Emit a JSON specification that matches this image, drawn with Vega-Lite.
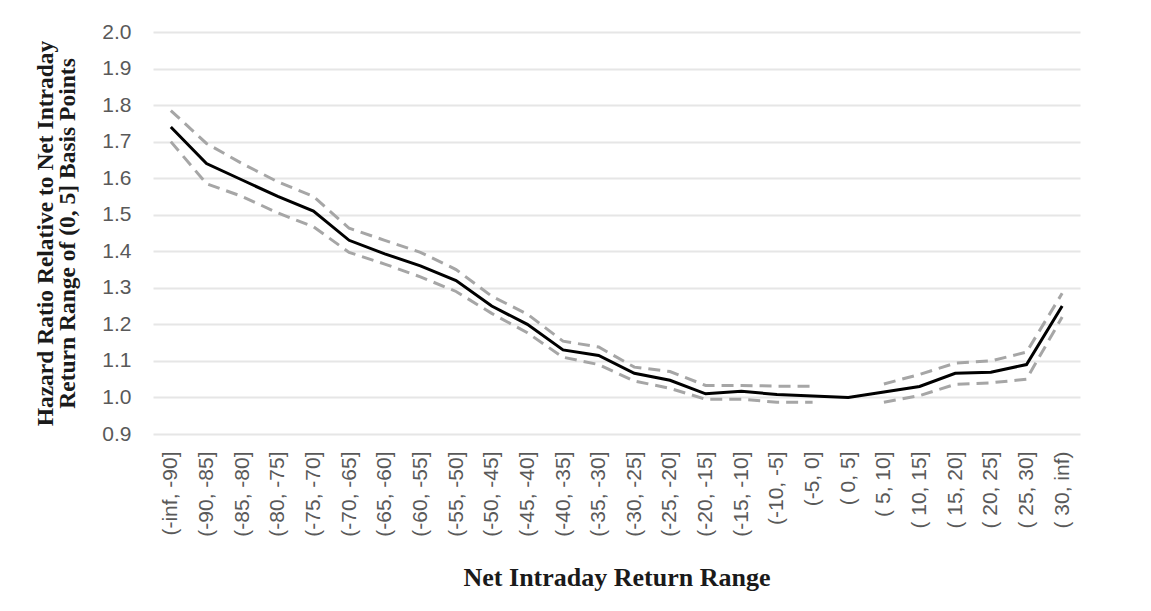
{
  "$schema": "https://vega.github.io/schema/vega-lite/v6.json",
  "autosize": {"type": "none"},
  "width": 927,
  "height": 402,
  "padding": {"left": 153, "top": 32, "right": 71, "bottom": 177},
  "background": "#ffffff",
  "config": {
    "view": {"stroke": null},
    "axis": {
      "labelFont": "Liberation Sans",
      "labelColor": "#595959",
      "labelFontSize": 21,
      "labelOverlap": false,
      "titleFont": "Liberation Serif",
      "titleFontWeight": "bold",
      "titleColor": "#1a1a1a",
      "domain": false,
      "ticks": false
    }
  },
  "data": {
    "values": [
      {"range": "(-inf, -90]", "hr": 1.74, "lower": 1.70, "upper": 1.785},
      {"range": "(-90, -85]", "hr": 1.64, "lower": 1.585, "upper": 1.695},
      {"range": "(-85, -80]", "hr": 1.595, "lower": 1.55, "upper": 1.64},
      {"range": "(-80, -75]", "hr": 1.55, "lower": 1.505, "upper": 1.59},
      {"range": "(-75, -70]", "hr": 1.51, "lower": 1.467, "upper": 1.55},
      {"range": "(-70, -65]", "hr": 1.43, "lower": 1.397, "upper": 1.463},
      {"range": "(-65, -60]", "hr": 1.393, "lower": 1.365, "upper": 1.43},
      {"range": "(-60, -55]", "hr": 1.36, "lower": 1.33, "upper": 1.397},
      {"range": "(-55, -50]", "hr": 1.32, "lower": 1.29, "upper": 1.35},
      {"range": "(-50, -45]", "hr": 1.25, "lower": 1.23, "upper": 1.277},
      {"range": "(-45, -40]", "hr": 1.20, "lower": 1.177, "upper": 1.228},
      {"range": "(-40, -35]", "hr": 1.13, "lower": 1.11, "upper": 1.154},
      {"range": "(-35, -30]", "hr": 1.115, "lower": 1.09, "upper": 1.138},
      {"range": "(-30, -25]", "hr": 1.066, "lower": 1.045, "upper": 1.083},
      {"range": "(-25, -20]", "hr": 1.047, "lower": 1.025, "upper": 1.071},
      {"range": "(-20, -15]", "hr": 1.01, "lower": 0.995, "upper": 1.033},
      {"range": "(-15, -10]", "hr": 1.017, "lower": 0.995, "upper": 1.033},
      {"range": "(-10, -5]", "hr": 1.008, "lower": 0.987, "upper": 1.031},
      {"range": "(-5, 0]", "hr": 1.004, "lower": 0.987, "upper": 1.031},
      {"range": "( 0, 5]", "hr": 1.0, "lower": null, "upper": null},
      {"range": "( 5, 10]", "hr": 1.015, "lower": 0.987, "upper": 1.037},
      {"range": "( 10, 15]", "hr": 1.03, "lower": 1.005, "upper": 1.063},
      {"range": "( 15, 20]", "hr": 1.066, "lower": 1.036, "upper": 1.094},
      {"range": "( 20, 25]", "hr": 1.069, "lower": 1.04, "upper": 1.10},
      {"range": "( 25, 30]", "hr": 1.09, "lower": 1.05, "upper": 1.124},
      {"range": "( 30, inf)", "hr": 1.25, "lower": 1.22, "upper": 1.285}
    ]
  },
  "transform": [{"fold": ["hr", "lower", "upper"], "as": ["series", "ratio"]}],
  "encoding": {
    "x": {
      "field": "range",
      "type": "nominal",
      "sort": null,
      "scale": {"type": "point", "padding": 0.5},
      "axis": {
        "title": "Net Intraday Return Range",
        "titleFontSize": 26,
        "titleBaseline": "middle",
        "titleY": 143,
        "labelAngle": 270,
        "labelAlign": "right",
        "labelBaseline": "middle",
        "labelPadding": 17,
        "grid": false
      }
    },
    "y": {
      "field": "ratio",
      "type": "quantitative",
      "scale": {"domain": [0.9, 2.0], "nice": false, "zero": false},
      "axis": {
        "title": ["Hazard Ratio Relative to Net Intraday", "Return Range of (0, 5] Basis Points"],
        "titleFontSize": 23.5,
        "titleLineHeight": 22,
        "titleAngle": 270,
        "titleAlign": "center",
        "titleBaseline": "middle",
        "titleX": -108,
        "titleY": 201,
        "values": [0.9, 1.0, 1.1, 1.2, 1.3, 1.4, 1.5, 1.6, 1.7, 1.8, 1.9, 2.0],
        "format": ".1f",
        "labelPadding": 22,
        "grid": true,
        "gridColor": "#e6e6e6",
        "gridWidth": 2
      }
    }
  },
  "layer": [
    {
      "transform": [{"filter": "datum.series !== 'hr'"}],
      "mark": {
        "type": "line",
        "color": "#a6a6a6",
        "strokeWidth": 3,
        "strokeDash": [12, 7],
        "invalid": "break-paths-filter-domains"
      },
      "encoding": {
        "detail": {"field": "series", "type": "nominal"}
      }
    },
    {
      "transform": [{"filter": "datum.series === 'hr'"}],
      "mark": {"type": "line", "color": "#000000", "strokeWidth": 3},
      "encoding": {}
    }
  ]
}
